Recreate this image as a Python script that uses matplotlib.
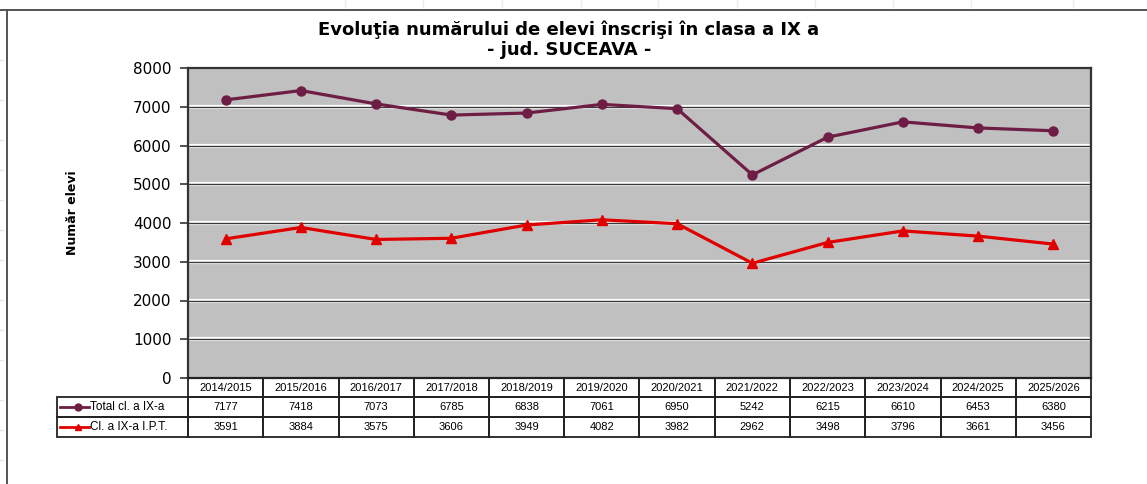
import matplotlib
matplotlib.use("Agg")
import matplotlib.pyplot as plt
from matplotlib.lines import Line2D
from matplotlib.patches import Rectangle

years = ["2014/2015", "2015/2016", "2016/2017", "2017/2018", "2018/2019", "2019/2020",
         "2020/2021", "2021/2022", "2022/2023", "2023/2024", "2024/2025", "2025/2026"]
total = [7177, 7418, 7073, 6785, 6838, 7061, 6950, 5242, 6215, 6610, 6453, 6380]
ipt = [3591, 3884, 3575, 3606, 3949, 4082, 3982, 2962, 3498, 3796, 3661, 3456]
series_names = ["Total cl. a IX-a", "Cl. a IX-a I.P.T."]
yticks = [0, 1000, 2000, 3000, 4000, 5000, 6000, 7000, 8000]

W, H = 1147, 484
fig = plt.figure(figsize=(W / 100, H / 100), dpi=100)
fig.patch.set_facecolor("white")

def fx(px):
    return px / W

def fy(py):
    return 1 - py / H

L, R, T, B = 188, 1091, 68, 378
ax = fig.add_axes([fx(L), fy(B), fx(R) - fx(L), fy(T) - fy(B)])
ax.set_facecolor("#C0C0C0")

c_total = "#6E1E45"
c_ipt = "#E00000"
x = list(range(len(years)))

for yv in yticks[1:-1]:
    ax.axhline(yv, color="white", lw=3.0, zorder=1)
    ax.axhline(yv, color="#3A3A3A", lw=1.0, zorder=1.1)

ax.plot(x, total, color=c_total, lw=2.3, marker="o", ms=6.5, zorder=3)
ax.plot(x, ipt, color=c_ipt, lw=2.3, marker="^", ms=7.5, zorder=3)

ax.set_xlim(-0.5, len(years) - 0.5)
ax.set_ylim(0, 8000)
ax.set_yticks(yticks)
ax.set_yticklabels([str(v) for v in yticks], fontsize=11, family="DejaVu Sans")
ax.tick_params(axis="y", direction="out", length=6, width=1.2, color="#333333", pad=6)
ax.set_xticks([])
for s in ax.spines.values():
    s.set_color("#333333")
    s.set_linewidth(1.6)

fig.text(fx(72), fy(213), "Număr elevi", rotation=90, ha="center", va="center",
         fontsize=9, fontweight="bold", family="DejaVu Sans")

fig.text(fx(569), fy(30), "Evoluţia numărului de elevi înscrişi în clasa a IX a",
         ha="center", va="center", fontsize=13, fontweight="bold", family="DejaVu Sans")
fig.text(fx(569), fy(50), "- jud. SUCEAVA -",
         ha="center", va="center", fontsize=13, fontweight="bold", family="DejaVu Sans")

# Outer frame lines
fig.add_artist(Line2D([0, 1], [fy(10), fy(10)], color="#555555", lw=1.4, transform=fig.transFigure))
fig.add_artist(Line2D([fx(7), fx(7)], [fy(10), 0], color="#555555", lw=1.4, transform=fig.transFigure))
for tx in [345, 423, 502, 581, 658, 737, 815, 893, 971, 1073]:
    fig.add_artist(Line2D([fx(tx), fx(tx)], [fy(0), fy(7)], color="#EEEEEE", lw=1, transform=fig.transFigure))
for ty in [60, 100, 140, 170, 200, 230, 260, 300, 330, 360, 400, 430, 460]:
    fig.add_artist(Line2D([0, fx(3)], [fy(ty), fy(ty)], color="#E6E6E6", lw=1, transform=fig.transFigure))

# Data table
tr = fig.transFigure
colw = (R - L) / len(years)
rows_y = [(B, 397), (397, 417), (417, 437)]
edge = "#222222"
lab_left = 57

def cell(x0, x1, y0, y1):
    fig.add_artist(Rectangle((fx(x0), fy(y1)), fx(x1) - fx(x0), fy(y0) - fy(y1),
                             fill=False, edgecolor=edge, lw=1.3, transform=tr))

for i, yr in enumerate(years):
    x0 = L + i * colw
    x1 = x0 + colw
    for r, (y0, y1) in enumerate(rows_y):
        cell(x0, x1, y0, y1)
        if r == 0:
            txt = yr
        elif r == 1:
            txt = str(total[i])
        else:
            txt = str(ipt[i])
        fig.text(fx((x0 + x1) / 2), fy((y0 + y1) / 2 + 0.5), txt, ha="center", va="center",
                 fontsize=8, family="Liberation Sans")

for r, (name, col, mk) in enumerate(zip(series_names, [c_total, c_ipt], ["o", "^"])):
    y0, y1 = rows_y[r + 1]
    cell(lab_left, L, y0, y1)
    ym = (y0 + y1) / 2
    fig.add_artist(Line2D([fx(60), fx(89)], [fy(ym), fy(ym)], color=col, lw=2.0,
                          marker=None, transform=tr))
    fig.add_artist(Line2D([fx(78)], [fy(ym)], color=col, marker=mk, ms=5, transform=tr))
    fig.text(fx(90), fy(ym + 0.5), name, ha="left", va="center", fontsize=8.5,
             family="Liberation Sans")

fig.savefig("out.png", dpi=100, facecolor="white")
